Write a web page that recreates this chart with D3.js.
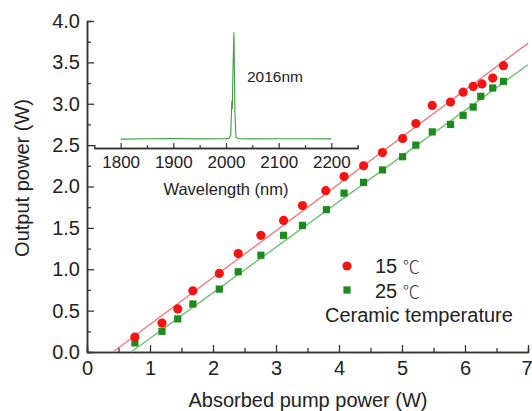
<!DOCTYPE html>
<html>
<head>
<meta charset="utf-8">
<script src="https://cdn.jsdelivr.net/npm/d3@7"></script>
<style>
  body { margin: 0; background: #fff; }
  svg { display: block; font-family: "Liberation Sans", Arial, sans-serif; }
</style>
</head>
<body>
<svg width="532" height="411"></svg>
<script>
// data
var pump15 = [0.76, 1.19, 1.44, 1.68, 2.10, 2.40, 2.76, 3.12, 3.42, 3.79, 4.08, 4.39, 4.69, 5.01, 5.22, 5.48, 5.77, 5.97, 6.13, 6.27, 6.44, 6.61];
var power15 = [0.18, 0.35, 0.52, 0.74, 0.95, 1.19, 1.41, 1.59, 1.77, 1.95, 2.12, 2.25, 2.41, 2.58, 2.76, 2.98, 3.02, 3.14, 3.21, 3.24, 3.31, 3.46];
var pump25 = [0.76, 1.19, 1.44, 1.68, 2.10, 2.40, 2.76, 3.12, 3.42, 3.80, 4.08, 4.39, 4.69, 5.01, 5.22, 5.48, 5.77, 5.97, 6.13, 6.25, 6.44, 6.61];
var power25 = [0.11, 0.25, 0.40, 0.58, 0.76, 0.97, 1.17, 1.41, 1.53, 1.72, 1.92, 2.05, 2.20, 2.36, 2.50, 2.66, 2.75, 2.86, 2.96, 3.09, 3.19, 3.27];

// linear fits: threshold (W) and slope
var fitThreshold = [0.41, 0.70];
var fitSlope = [0.566, 0.551];
var seriesNames = ["15", "25"];

var xTicks = [0, 1, 2, 3, 4, 5, 6, 7];
var yTicks = [0.0, 0.5, 1.0, 1.5, 2.0, 2.5, 3.0, 3.5, 4.0];

// inset spectrum (arb. units)
var waveLen = [1800, 1850, 1900, 1950, 2000, 2006, 2009, 2011, 2012, 2013, 2015, 2017, 2019, 2025, 2050, 2100, 2150, 2200];
var intensity = [0.075, 0.078, 0.081, 0.077, 0.079, 0.082, 0.11, 0.40, 0.33, 0.62, 0.98, 0.30, 0.09, 0.078, 0.077, 0.079, 0.078, 0.077];
var waveTicks = [1800, 1900, 2000, 2100, 2200];

var svg = d3.select("svg");

var margin = {left: 87, right: 4, top: 21, bottom: 59};
var width = 532, height = 411;

var xScale = d3.scaleLinear()
                .domain([0, 7])
                .range([margin.left, width - margin.right]);
var yScale = d3.scaleLinear()
                .domain([0, 4])
                .range([height - margin.bottom, margin.top]);

var axisColor = "#333";
var red = "#f41414", green = "#1c8a1c";
var lineCols = ["#f47a7a", "#6cc06c"];

var plot = svg.append("g").classed("plot", true);

// axes, ticks pointing inward
var x_axis = d3.axisBottom(xScale).tickValues(xTicks).tickSizeInner(-7).tickSizeOuter(0).tickPadding(9).tickFormat(d3.format("d"));
var y_axis = d3.axisLeft(yScale).tickValues(yTicks).tickSizeInner(-7).tickSizeOuter(0).tickPadding(7).tickFormat(d3.format(".1f"));

var xMinor = d3.axisBottom(xScale).tickValues(d3.range(0.5, 7, 1)).tickSize(-4).tickFormat("");
var yMinor = d3.axisLeft(yScale).tickValues(d3.range(0.25, 4, 0.5)).tickSize(-4).tickFormat("");

var gx = plot.append("g").attr("transform", "translate(0," + yScale(0) + ")").call(x_axis);
plot.append("g").attr("transform", "translate(0," + yScale(0) + ")").call(xMinor);
var gy = plot.append("g").attr("transform", "translate(" + xScale(0) + ",0)").call(y_axis);
plot.append("g").attr("transform", "translate(" + xScale(0) + ",0)").call(yMinor);

plot.selectAll(".domain").attr("stroke", axisColor).attr("stroke-width", 1.5);
plot.selectAll(".tick line").attr("stroke", axisColor).attr("stroke-width", 1.3);
plot.selectAll(".tick text").attr("font-size", 20).attr("fill", "#222").attr("font-family", "Liberation Sans, Arial, sans-serif");
gx.selectAll(".tick text").attr("dy", "0.71em");
// last label sits at the window edge
gx.selectAll(".tick text").filter(function(d) { return d === 7; }).attr("text-anchor", "end").attr("x", 4);

// axis titles
svg.append("text").attr("x", 308).attr("y", 407).attr("text-anchor", "middle")
   .attr("font-size", 20).attr("fill", "#222").text("Absorbed pump power (W)");
svg.append("text").attr("transform", "translate(29,178) rotate(-90)").attr("text-anchor", "middle")
   .attr("font-size", 20).attr("fill", "#222").text("Output power (W)");

// fit lines
var fits = plot.append("g").classed("fits", true);
fitThreshold.forEach(function(t, i) {
  fits.append("line")
      .attr("x1", xScale(t)).attr("y1", yScale(0))
      .attr("x2", xScale(7)).attr("y2", yScale(fitSlope[i] * (7 - t)))
      .attr("stroke", lineCols[i]).attr("stroke-width", 1.4);
});

// data points
var d15 = pump15.map(function(p, i) { return [p, power15[i]]; });
var d25 = pump25.map(function(p, i) { return [p, power25[i]]; });

plot.append("g").selectAll("rect").data(d25).enter().append("rect")
    .attr("x", function(d) { return xScale(d[0]) - 3.6; })
    .attr("y", function(d) { return yScale(d[1]) - 3.6; })
    .attr("width", 7.2).attr("height", 7.2)
    .attr("fill", green);

plot.append("g").selectAll("circle").data(d15).enter().append("circle")
    .attr("cx", function(d) { return xScale(d[0]); })
    .attr("cy", function(d) { return yScale(d[1]); })
    .attr("r", 4.6)
    .attr("fill", red);

// legend
var legend = svg.append("g").classed("legend", true);
legend.append("circle").attr("cx", 347).attr("cy", 266).attr("r", 4.6).attr("fill", red);
legend.append("rect").attr("x", 343.4).attr("y", 286.4).attr("width", 7.2).attr("height", 7.2).attr("fill", green);
var serText = legend.selectAll("text.ser").data(seriesNames).enter().append("text").classed("ser", true)
      .attr("x", 375).attr("y", function(d, i) { return 273 + i * 24.5; })
      .attr("font-size", 20).attr("fill", "#222");
serText.append("tspan").text(function(d) { return d + " "; });
serText.append("tspan").attr("font-family", "Noto Sans CJK SC, sans-serif").attr("font-size", 17)
       .attr("font-weight", 300).attr("fill", "#333").text("\u2103");
legend.append("text").attr("x", 325).attr("y", 322).attr("font-size", 20).attr("fill", "#222").text("Ceramic temperature");

// inset spectrum
var ix = d3.scaleLinear().domain([1750, 2250]).range([94.3, 357.7]);
var iy = d3.scaleLinear().domain([0, 1]).range([148, 30]);

var inset = svg.append("g").classed("inset", true);
var ixAxis = d3.axisBottom(ix).tickValues(waveTicks).tickSizeInner(-5).tickSizeOuter(0).tickPadding(8).tickFormat(d3.format("d"));
var ixMinor = d3.axisBottom(ix).tickValues([1850, 1950, 2050, 2150]).tickSize(-3).tickFormat("");
var gix = inset.append("g").attr("transform", "translate(0,148)").call(ixAxis);
inset.append("g").attr("transform", "translate(0,148)").call(ixMinor);
inset.selectAll(".domain").attr("stroke", axisColor).attr("stroke-width", 1.4);
inset.selectAll(".tick line").attr("stroke", axisColor).attr("stroke-width", 1.2);
gix.selectAll(".tick text").attr("font-size", 17).attr("fill", "#222").attr("dy", "0.71em").attr("font-family", "Liberation Sans, Arial, sans-serif");

inset.append("path")
     .datum(waveLen.map(function(w, i) { return [w, intensity[i]]; }))
     .attr("d", d3.line().x(function(d) { return ix(d[0]); }).y(function(d) { return iy(d[1]); }))
     .attr("fill", "none").attr("stroke", "#3f9f3f").attr("stroke-width", 1.1);

inset.append("text").attr("x", 226).attr("y", 195).attr("text-anchor", "middle")
     .attr("font-size", 16.5).attr("fill", "#222").text("Wavelength (nm)");
inset.append("text").attr("x", 247).attr("y", 82).attr("font-size", 15.5).attr("fill", "#222").text("2016nm");
</script>
</body>
</html>
